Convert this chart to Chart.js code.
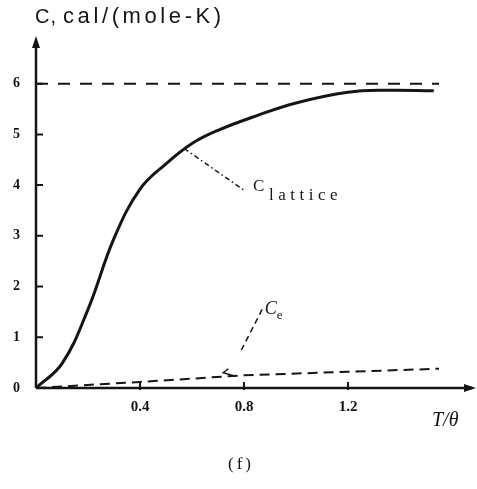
<!DOCTYPE html>
<html>
<head>
<meta charset="utf-8">
<script src="https://cdn.jsdelivr.net/npm/chart.js@4.4.1/dist/chart.umd.min.js"></script>
<style>
  html, body { margin: 0; padding: 0; background: #fff; }
  #wrap { width: 477px; height: 489px; }
</style>
</head>
<body>
<div id="wrap"><canvas id="canvasId"></canvas></div>
<script>
// lattice heat capacity vs reduced temperature
const tLattice = [0, 0.1, 0.2, 0.3, 0.4, 0.5, 0.6, 0.7, 0.85, 1.0, 1.2, 1.35, 1.53];
const cLattice = [0, 0.48, 1.55, 2.95, 3.92, 4.42, 4.82, 5.08, 5.37, 5.62, 5.83, 5.87, 5.86];

// electronic contribution
const tElectron = [0, 0.4, 0.8, 1.2, 1.55];
const cElectron = [0, 0.12, 0.25, 0.32, 0.38];

// classical limit 3R
const tLimit = [0, 1.55];
const cLimit = [6, 6];

const xTicks = [0.4, 0.8, 1.2];
const yTicks = [0, 1, 2, 3, 4, 5, 6];

const ink = '#151515';
const pts = (xs, ys) => xs.map((x, i) => ({ x: x, y: ys[i] }));

const arrow = (ctx, x, y, dir) => {
    ctx.beginPath();
    if (dir === 'up') {
        ctx.moveTo(x, y - 2);
        ctx.lineTo(x - 4, y + 10);
        ctx.lineTo(x + 4, y + 10);
    } else {
        ctx.moveTo(x + 2, y);
        ctx.lineTo(x - 10, y - 4);
        ctx.lineTo(x - 10, y + 4);
    }
    ctx.closePath();
    ctx.fill();
};

const axesPlugin = {
    id: 'axes',
    afterDatasetsDraw(chart) {
        const ctx = chart.ctx;
        const xs = chart.scales.x;
        const ys = chart.scales.y;
        const x0 = xs.getPixelForValue(0);
        const y0 = ys.getPixelForValue(0);
        const top = chart.chartArea.top;

        ctx.save();
        ctx.strokeStyle = ink;
        ctx.fillStyle = ink;
        ctx.lineWidth = 2.5;

        // axes with arrows
        ctx.beginPath();
        ctx.moveTo(x0, y0);
        ctx.lineTo(x0, top + 4);
        ctx.moveTo(x0, y0);
        ctx.lineTo(472, y0);
        ctx.stroke();
        arrow(ctx, x0, top, 'up');
        arrow(ctx, 474, y0, 'right');

        // tick marks
        ctx.lineWidth = 2;
        ctx.beginPath();
        yTicks.slice(1).forEach(v => {
            const y = ys.getPixelForValue(v);
            ctx.moveTo(x0, y);
            ctx.lineTo(x0 + 7, y);
        });
        xTicks.forEach(v => {
            const x = xs.getPixelForValue(v);
            ctx.moveTo(x, y0 + 2);
            ctx.lineTo(x, y0 - 6);
        });
        ctx.stroke();

        // leader lines
        ctx.lineWidth = 1.5;
        ctx.setLineDash([5, 3, 1.5, 3]);
        ctx.beginPath();
        ctx.moveTo(xs.getPixelForValue(0.57), ys.getPixelForValue(4.72));
        ctx.lineTo(xs.getPixelForValue(0.8), ys.getPixelForValue(3.9));
        ctx.stroke();
        ctx.setLineDash([6, 4]);
        ctx.beginPath();
        ctx.moveTo(xs.getPixelForValue(0.87), ys.getPixelForValue(1.55));
        ctx.lineTo(xs.getPixelForValue(0.79), ys.getPixelForValue(0.75));
        ctx.stroke();
        ctx.setLineDash([]);
        ctx.beginPath();
        ctx.moveTo(xs.getPixelForValue(0.74), ys.getPixelForValue(0.38));
        ctx.lineTo(xs.getPixelForValue(0.72), ys.getPixelForValue(0.3));
        ctx.lineTo(xs.getPixelForValue(0.76), ys.getPixelForValue(0.24));
        ctx.stroke();

        // labels
        ctx.textBaseline = 'middle';
        ctx.textAlign = 'left';
        ctx.font = '20px "Liberation Sans"';
        ctx.letterSpacing = '1px';
        ctx.fillText('C,', 35, 17);
        ctx.font = '22px "Liberation Sans"';
        ctx.letterSpacing = '3.6px';
        ctx.fillText('cal/(mole-K)', 63, 17);

        ctx.font = '17px "Liberation Serif"';
        ctx.letterSpacing = '0px';
        ctx.fillText('C', 253, 187);
        ctx.font = '17px "Liberation Serif"';
        ctx.letterSpacing = '4.5px';
        ctx.fillText('lattice', 269, 196);

        ctx.letterSpacing = '0px';
        ctx.font = 'italic 18px "Liberation Serif"';
        ctx.fillText('C', xs.getPixelForValue(0.88), ys.getPixelForValue(1.55));
        ctx.font = '13px "Liberation Serif"';
        ctx.fillText('e', xs.getPixelForValue(0.88) + 12, ys.getPixelForValue(1.42));

        ctx.font = 'italic 20px "Liberation Serif"';
        ctx.fillText('T/\u03b8', 432, 421);

        ctx.font = '17px "Liberation Serif"';
        ctx.letterSpacing = '3px';
        ctx.fillText('(f)', 228, 465);
        ctx.restore();
    }
};

const config = {
    type: 'scatter',
    data: {
        datasets: [{
            label: 'C lattice',
            data: pts(tLattice, cLattice),
            borderColor: ink,
            borderWidth: 3,
            showLine: true,
            tension: 0.4,
        }, {
            label: 'Ce',
            data: pts(tElectron, cElectron),
            borderColor: ink,
            borderWidth: 2,
            borderDash: [10, 6],
            showLine: true,
        }, {
            label: '3R',
            data: pts(tLimit, cLimit),
            borderColor: ink,
            borderWidth: 2,
            borderDash: [12, 10],
            showLine: true,
        }],
    },
    options: {
        animation: false,
        responsive: true,
        maintainAspectRatio: false,
        layout: {
            padding: { top: 38, right: 25, left: 0, bottom: 0 },
        },
        elements: {
            point: { radius: 0 },
        },
        scales: {
            x: {
                type: 'linear',
                position: 'bottom',
                min: 0,
                max: 1.6,
                afterBuildTicks: axis => { axis.ticks = xTicks.map(v => ({ value: v })); },
                afterFit: axis => { axis.height = 101; },
                grid: { display: false, drawTicks: false },
                border: { display: false },
                ticks: {
                    padding: 10,
                    color: ink,
                    font: { family: 'Liberation Serif', size: 15, weight: 'bold' },
                    callback: v => v.toFixed(1),
                },
            },
            y: {
                type: 'linear',
                min: 0,
                max: 6.9,
                afterBuildTicks: axis => { axis.ticks = yTicks.map(v => ({ value: v })); },
                afterFit: axis => { axis.width = 36; },
                grid: { display: false, drawTicks: false },
                border: { display: false },
                ticks: {
                    padding: 16,
                    color: ink,
                    font: { family: 'Liberation Serif', size: 14, weight: 'bold' },
                },
            },
        },
        plugins: {
            legend: { display: false },
            tooltip: { enabled: false },
        },
    },
    plugins: [axesPlugin],
};

new Chart(document.querySelector('#canvasId'), config);
</script>
</body>
</html>
